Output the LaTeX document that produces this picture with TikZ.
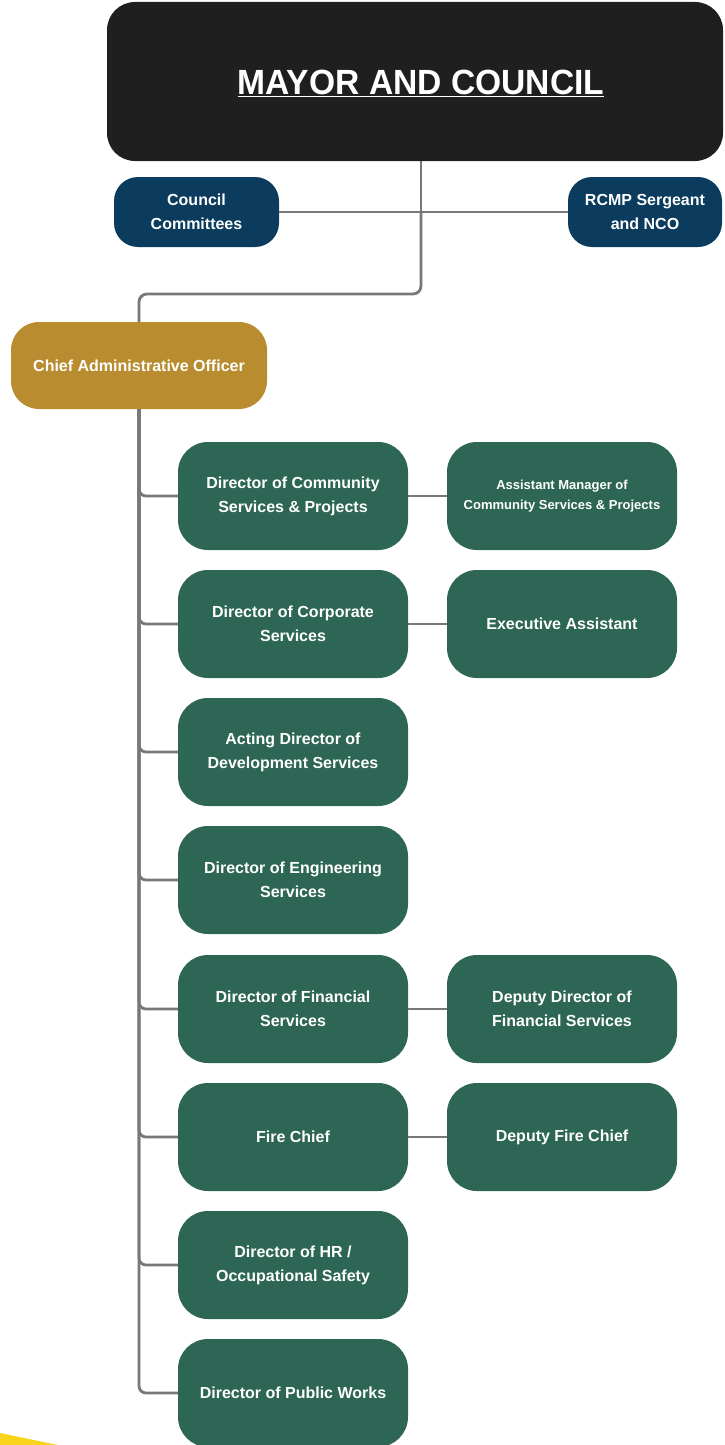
\documentclass[tikz,border=0pt]{standalone}
\usepackage{fontspec}
\setmainfont{Liberation Sans}
\usepackage{graphicx}
\definecolor{mayorfill}{HTML}{1F1F1F}
\definecolor{navy}{HTML}{0B3C5E}
\definecolor{gold}{HTML}{B98C2F}
\definecolor{green}{HTML}{2D6654}
\definecolor{linegray}{HTML}{787878}
\definecolor{wedge}{HTML}{F7D31A}
\tikzset{
  conn/.style={draw=linegray, line width=2.8pt},
  boxbase/.style={rectangle, text=white, align=center, inner sep=0pt,
    font=\fontsize{16}{24}\selectfont\bfseries},
  navybox/.style={boxbase, fill=navy, rounded corners=24pt, minimum width=165pt, minimum height=70pt},
  goldbox/.style={boxbase, fill=gold, rounded corners=28pt, minimum width=256pt, minimum height=87pt},
  greenbox/.style={boxbase, fill=green, rounded corners=30pt, minimum width=230pt, minimum height=108pt},
  smalltext/.style={font=\fontsize{13}{20}\selectfont\bfseries}
}
\begin{document}
\begin{tikzpicture}[x=1pt,y=-1pt]
\useasboundingbox (0,0) rectangle (724,1445);
\clip (0,0) rectangle (724,1445);
% yellow wedge
\fill[wedge] (0,1433) -- (58,1445) -- (0,1445) -- cycle;
% mayor
\node[rectangle, fill=mayorfill, rounded corners=28pt, minimum width=616pt, minimum height=159pt, inner sep=0pt] (mayor) at (415,81.5) {};
\node[text=white, inner sep=0pt, font=\fontsize{35}{40}\selectfont\bfseries] (mayortext) at (421,83)
  {\scalebox{0.96}[1]{\underline{MAYOR AND COUNCIL}}};
% council level
\node[navybox] (cc) at (196.5,212) {Council\\Committees};
\node[navybox, minimum width=154pt] (rcmp) at (645,212) {RCMP Sergeant\\and NCO};
% CAO
\node[goldbox] (cao) at (139,365.5) {Chief Administrative Officer};
% directors
\node[greenbox] (d1) at (293,496) {Director of Community\\Services \& Projects};
\node[greenbox] (d2) at (293,624) {Director of Corporate\\Services};
\node[greenbox] (d3) at (293,752) {Acting Director of\\Development Services};
\node[greenbox] (d4) at (293,880) {Director of Engineering\\Services};
\node[greenbox] (d5) at (293,1009) {Director of Financial\\Services};
\node[greenbox] (d6) at (293,1137) {Fire Chief};
\node[greenbox] (d7) at (293,1265) {Director of HR /\\Occupational Safety};
\node[greenbox] (d8) at (293,1393) {Director of Public Works};
% assistants
\node[greenbox, smalltext] (a1) at (562,496) {Assistant Manager of\\Community Services \& Projects};
\node[greenbox] (a2) at (562,624) {Executive Assistant};
\node[greenbox] (a5) at (562,1009) {Deputy Director of\\Financial Services};
\node[greenbox] (a6) at (562,1137) {Deputy Fire Chief};
% connectors
\draw[conn] (mayortext |- mayor.south) -- (mayortext |- cc.east);
\draw[conn] (cc.east) -- (rcmp.west);
\draw[conn, rounded corners=8pt] (mayortext |- cc.east) -- ++(0,82) -| (cao.north);
\foreach \d in {d1,d2,d3,d4,d5,d6,d7,d8}{
  \draw[conn, rounded corners=7pt] (cao.south) |- (\d.west);
}
\draw[conn] (d1.east) -- (a1.west);
\draw[conn] (d2.east) -- (a2.west);
\draw[conn] (d5.east) -- (a5.west);
\draw[conn] (d6.east) -- (a6.west);
\end{tikzpicture}
\end{document}
